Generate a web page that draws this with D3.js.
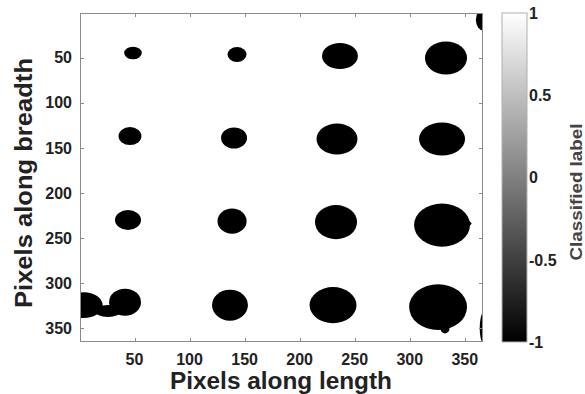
<!DOCTYPE html>
<html>
<head>
<meta charset="utf-8">
<script src="https://cdn.jsdelivr.net/npm/d3@7"></script>
<style>
  html, body { margin: 0; padding: 0; background: #fff; }
  svg { display: block; }
  text { font-family: "Liberation Sans", Arial, sans-serif; font-weight: bold; fill: #222; }
</style>
</head>
<body>
<div id="chart"></div>
<script>
// ---- data ----
const imageWidth = 366;   // pixels along length
const imageHeight = 365;  // pixels along breadth
const backgroundLabel = 1;
const blobLabel = -1;
// classified regions (label -1) as ellipses, image pixel coordinates
const blobCx = [48.6, 143.1, 236.6, 332.9, 45.9, 140.4, 233.9, 329.3, 44.1, 138.6, 233.0, 329.3, 349.0, 41.4, 136.7, 230.3, 325.7, 332.0, 4.0, 25.9, 367.0, 367.0];
const blobCy = [44.9, 46.6, 48.2, 50.4, 137.0, 139.2, 140.3, 140.3, 230.2, 231.4, 232.5, 235.8, 234.0, 321.3, 324.6, 324.6, 326.8, 351.0, 324.6, 331.2, 8.0, 350.0];
const blobRx = [8.0, 8.6, 16.3, 19.1, 10.4, 11.8, 18.6, 20.9, 11.8, 13.2, 19.1, 25.4, 7.0, 14.5, 16.3, 21.3, 26.3, 4.0, 17.0, 11.8, 7.0, 3.5];
const blobRy = [7.0, 8.3, 14.4, 18.3, 10.0, 11.7, 17.2, 18.3, 11.1, 13.9, 18.9, 23.9, 3.5, 15.0, 17.2, 20.0, 25.5, 5.0, 14.4, 6.7, 12.0, 17.0];
const xTicks = [50, 100, 150, 200, 250, 300, 350];
const yTicks = [50, 100, 150, 200, 250, 300, 350];
const cbTicks = [-1, -0.5, 0, 0.5, 1];
const cbTickLabels = ["-1", "-0.5", "0", "0.5", "1"];
const xTitle = "Pixels along length";
const yTitle = "Pixels along breadth";
const cbTitle = "Classified label";

// ---- layout ----
const W = 585, H = 394;
const plot = { left: 80, top: 13, right: 483, bottom: 342 };
const cb = { left: 502, right: 527, top: 13, bottom: 342 };

const svg = d3.select("#chart").append("svg").attr("width", W).attr("height", H);

const x = d3.scaleLinear().domain([0.5, imageWidth + 0.5]).range([plot.left, plot.right]);
const y = d3.scaleLinear().domain([0.5, imageHeight + 0.5]).range([plot.top, plot.bottom]);
const color = d3.scaleLinear().domain([-1, 1]).range(["#000000", "#ffffff"]);

const defs = svg.append("defs");
defs.append("clipPath").attr("id", "clip").append("rect")
  .attr("x", plot.left).attr("y", plot.top)
  .attr("width", plot.right - plot.left).attr("height", plot.bottom - plot.top);
defs.append("filter").attr("id", "soft").attr("x", "-5%").attr("y", "-5%").attr("width", "110%").attr("height", "110%")
  .append("feGaussianBlur").attr("stdDeviation", 0.7);

const img = svg.append("g").attr("clip-path", "url(#clip)");
img.append("rect")
  .attr("x", x(0.5)).attr("y", y(0.5))
  .attr("width", x(imageWidth + 0.5) - x(0.5)).attr("height", y(imageHeight + 0.5) - y(0.5))
  .attr("fill", color(backgroundLabel));
const blobs = d3.range(blobCx.length).map(i => ({ cx: blobCx[i], cy: blobCy[i], rx: blobRx[i], ry: blobRy[i], v: blobLabel }));
img.append("g").attr("filter", "url(#soft)")
  .selectAll("ellipse").data(blobs).join("ellipse")
  .attr("cx", d => x(d.cx)).attr("cy", d => y(d.cy))
  .attr("rx", d => x(d.cx + d.rx) - x(d.cx)).attr("ry", d => y(d.cy + d.ry) - y(d.cy))
  .attr("fill", d => color(d.v));

// axes (box with inward ticks)
const axisColor = "#8a8a8a";
const tickLen = 4;
const axes = svg.append("g").attr("stroke", axisColor).attr("stroke-width", 1).attr("fill", "none");
axes.append("rect").attr("x", plot.left + 0.5).attr("y", plot.top + 0.5)
  .attr("width", plot.right - plot.left - 1).attr("height", plot.bottom - plot.top - 1);
xTicks.forEach(t => {
  const px = Math.round(x(t)) + 0.5;
  axes.append("line").attr("x1", px).attr("x2", px).attr("y1", plot.bottom).attr("y2", plot.bottom - tickLen);
  axes.append("line").attr("x1", px).attr("x2", px).attr("y1", plot.top).attr("y2", plot.top + tickLen);
});
yTicks.forEach(t => {
  const py = Math.round(y(t)) + 0.5;
  axes.append("line").attr("x1", plot.left).attr("x2", plot.left + tickLen).attr("y1", py).attr("y2", py);
  axes.append("line").attr("x1", plot.right).attr("x2", plot.right - tickLen).attr("y1", py).attr("y2", py);
});

// tick labels
svg.append("g").selectAll("text").data(xTicks).join("text")
  .attr("x", d => x(d)).attr("y", 365)
  .attr("text-anchor", "middle").attr("font-size", 16).text(d => d);
svg.append("g").selectAll("text").data(yTicks).join("text")
  .attr("x", 72).attr("y", d => y(d)).attr("dy", "0.36em")
  .attr("text-anchor", "end").attr("font-size", 16).text(d => d);

// axis titles
svg.append("text").attr("x", 281).attr("y", 389)
  .attr("text-anchor", "middle").attr("font-size", 23)
  .attr("textLength", 222).attr("lengthAdjust", "spacingAndGlyphs").text(xTitle);
svg.append("text").attr("transform", "translate(32,183) rotate(-90)")
  .attr("text-anchor", "middle").attr("font-size", 23)
  .attr("textLength", 250).attr("lengthAdjust", "spacingAndGlyphs").text(yTitle);

// colorbar
const cbScale = d3.scaleLinear().domain([-1, 1]).range([cb.bottom, cb.top]);
const grad = defs.append("linearGradient").attr("id", "cbgrad")
  .attr("x1", 0).attr("y1", 1).attr("x2", 0).attr("y2", 0);
cbTicks.forEach(v => grad.append("stop").attr("offset", (v + 1) / 2).attr("stop-color", color(v)));
svg.append("rect").attr("x", cb.left).attr("y", cb.top)
  .attr("width", cb.right - cb.left).attr("height", cb.bottom - cb.top)
  .attr("fill", "url(#cbgrad)").attr("stroke", "#b0b0b0").attr("stroke-width", 1);
svg.append("g").selectAll("text").data(cbTicks).join("text")
  .attr("x", cb.right + 2).attr("y", d => cbScale(d)).attr("dy", "0.36em")
  .attr("font-size", 16).text((d, i) => cbTickLabels[i]);
svg.append("text").attr("transform", "translate(582,192) rotate(-90)")
  .attr("text-anchor", "middle").attr("font-size", 17)
  .attr("textLength", 137).attr("lengthAdjust", "spacingAndGlyphs")
  .style("fill", "#444").text(cbTitle);
</script>
</body>
</html>
